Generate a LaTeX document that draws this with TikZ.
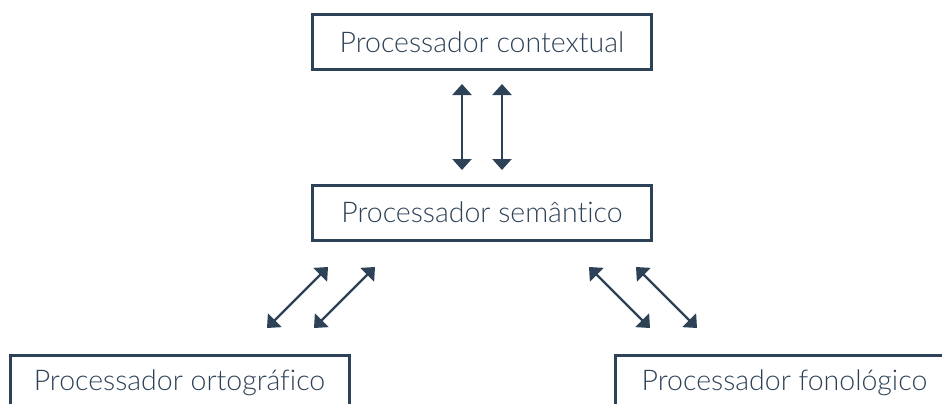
\documentclass[tikz,border=0pt]{standalone}
\usepackage{fontspec}
\setmainfont{Lato}[UprightFont={* Light},Ligatures={NoCommon}]
\usetikzlibrary{arrows.meta}
\definecolor{navy}{RGB}{46,66,87}
\tikzset{
  box/.style={draw=navy, line width=3pt, text=navy, font=\fontsize{28.5}{34}\selectfont, minimum width=339pt, minimum height=55pt, inner sep=0pt, anchor=center},
  link/.style={draw=navy, line width=2.2pt, {Triangle[length=11pt,width=19pt]}-{Triangle[length=11pt,width=19pt]}}
}
\begin{document}
\begin{tikzpicture}[x=1pt,y=-1pt]
\useasboundingbox (0,0) rectangle (942,404);
\node[box] (ctx) at (482,42) {Processador contextual};
\node[box] (sem) at (482,212.5) {Processador semântico};
\node[box] (ort) at (179.5,382.5) {Processador ortográfico};
\node[box] (fon) at (784.5,382.5) {Processador fonológico};
\coordinate (v1a) at (462,84); \coordinate (v1b) at (462,170);
\coordinate (v2a) at (502,84); \coordinate (v2b) at (502,170);
\coordinate (l1a) at (267,328); \coordinate (l1b) at (328,267);
\coordinate (l2a) at (314,328); \coordinate (l2b) at (375,267);
\coordinate (r1a) at (589,267); \coordinate (r1b) at (650,328);
\coordinate (r2a) at (636,267); \coordinate (r2b) at (697,328);
\draw[link] (v1a) -- (v1b);
\draw[link] (v2a) -- (v2b);
\draw[link] (l1a) -- (l1b);
\draw[link] (l2a) -- (l2b);
\draw[link] (r1a) -- (r1b);
\draw[link] (r2a) -- (r2b);
\end{tikzpicture}
\end{document}
